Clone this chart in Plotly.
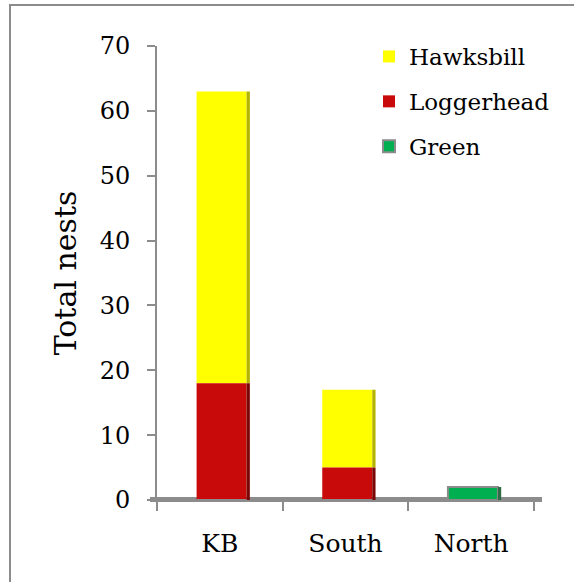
import plotly.graph_objects as go

# ---- data ----
categories = ["KB", "South", "North"]
loggerhead = [18, 5, 0]
hawksbill = [45, 12, 0]
green = [0, 0, 2]
y_ticks = [0, 10, 20, 30, 40, 50, 60, 70]

# ---- layout constants (screen pixels; page body margin removed) ----
W, H = 574, 582
L, T = 157, 46
R = W - 534
B = H - 500
PW, PH = W - L - R, H - T - B


def px_x(p):  # screen px -> paper
    return (p - L) / PW


def px_y(p):
    return (H - B - p) / PH


FONT = "DejaVu Serif"
GRAY = "#8c8c8c"

OFF = -0.185
BW = 0.398
SW = 0.026

base_hawk = [a for a in loggerhead]
zeros = [0, 0, 0]

fig = go.Figure()


def add_series(name, vals, base, color, dark, line=None, show=True):
    fig.add_trace(go.Bar(
        x=categories, y=vals, base=base, name=name, legendgroup=name,
        marker=dict(color=color, line=dict(width=2 if line else 0, color=line or color)),
        offset=OFF, width=BW, showlegend=show,
    ))
    # right-edge shading strip (3D look)
    fig.add_trace(go.Bar(
        x=categories, y=vals, base=base, name=name, legendgroup=name,
        marker=dict(color=dark, line=dict(width=0)),
        offset=OFF + BW, width=SW, showlegend=False, hoverinfo="skip",
    ))


add_series("Hawksbill", hawksbill, base_hawk, "#ffff00", "#b3b300")
add_series("Loggerhead", loggerhead, zeros, "#c80a0a", "#7a0606")
add_series("Green", green, zeros, "#00b050", "#2f6b45", line=GRAY)

# floor (3D look)
fig.add_shape(type="rect", xref="paper", yref="paper",
              x0=px_x(150), x1=px_x(542), y0=px_y(502), y1=px_y(497),
              fillcolor=GRAY, line=dict(width=0), layer="below")
# outer chart frame
fig.add_shape(type="rect", xref="paper", yref="paper",
              x0=px_x(10), x1=px_x(620), y0=px_y(620), y1=px_y(5),
              fillcolor="rgba(0,0,0,0)", line=dict(width=2, color=GRAY))

fig.update_layout(
    width=W, height=H,
    margin=dict(l=L, r=R, t=T, b=B, pad=0),
    barmode="overlay",
    paper_bgcolor="white", plot_bgcolor="white",
    font=dict(family=FONT, color="black"),
    showlegend=True,
    legend=dict(
        x=px_x(369), y=px_y(35), xanchor="left", yanchor="top",
        font=dict(size=23, family=FONT), traceorder="grouped",
        tracegroupgap=12, bgcolor="rgba(0,0,0,0)",
    ),
    xaxis=dict(
        range=[-0.5, 2.5], showline=False, showgrid=False, zeroline=False,
        ticks="outside", ticklen=10, tickwidth=2, tickcolor=GRAY,
        tickson="boundaries", tickfont=dict(size=25, family=FONT),
        ticklabelstandoff=26,
    ),
    yaxis=dict(
        range=[0, 70], tickvals=y_ticks, showline=True, linewidth=2, linecolor=GRAY,
        showgrid=False, zeroline=False, ticks="outside", ticklen=8, tickwidth=2,
        tickcolor=GRAY, tickfont=dict(size=24, family=FONT), ticklabelstandoff=12,
        title=dict(text="Total nests", font=dict(size=30, family=FONT), standoff=14),
    ),
)

fig.write_html(
    "out.html",
    config={"displayModeBar": False},
    post_script="document.body.style.margin='0';document.body.style.overflow='hidden';",
)
